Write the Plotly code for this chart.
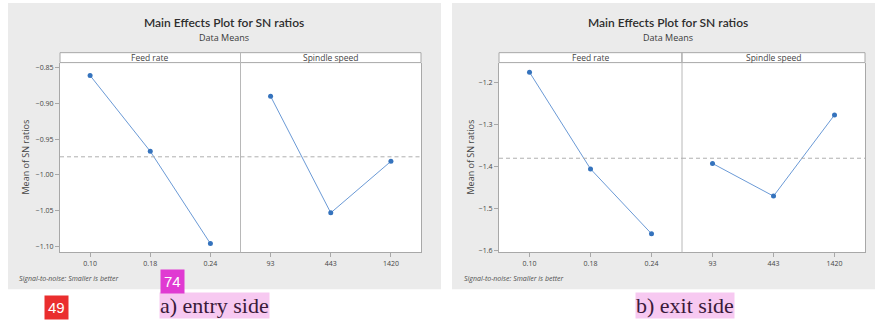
import plotly.graph_objects as go
import numpy as np

# ---- data ----
feed_levels = ["0.10", "0.18", "0.24"]
speed_levels = ["93", "443", "1420"]
entry_feed = [-0.861, -0.967, -1.096]
entry_speed = [-0.890, -1.053, -0.981]
exit_feed = [-1.175, -1.406, -1.561]
exit_speed = [-1.393, -1.471, -1.277]
entry_ticks = [-0.85, -0.90, -0.95, -1.00, -1.05, -1.10]
exit_ticks = [-1.2, -1.3, -1.4, -1.5, -1.6]
panel_titles = ["Feed rate", "Spindle speed"]

W, H = 875, 320
def px(x): return x / W
def py(y): return 1 - y / H

LINE_C = "#6b9ad6"
MARK_C = "#3573bd"
AX_C = "#a8a8a8"
TXT_C = "#454545"
FONT = "Open Sans, Liberation Sans, sans-serif"

fig = go.Figure()

panels = [
    dict(xs=(60, 240.5, 421), feed=entry_feed, speed=entry_speed, ticks=entry_ticks,
         fmt=".2f", rng=[-1.1083, -0.843], gray=(8, 441), ytitle_x=26, foot_x=17, title_x=224, label="a) entry side", label_x=214),
    dict(xs=(499, 682, 865), feed=exit_feed, speed=exit_speed, ticks=exit_ticks,
         fmt=".1f", rng=[-1.6055, -1.152], gray=(452, 875), ytitle_x=471, foot_x=462, title_x=668, label="b) exit side", label_x=685),
]

y_top_plot = py(63)
y_bot_plot = py(254)
y_strip_top = py(53)

shapes = []
annotations = []
layout_axes = {}

for pi, p in enumerate(panels):
    x0, xm, x1 = p["xs"]
    xa1 = "x" if pi == 0 else f"x{2*pi+1}"
    xa2 = f"x{2*pi+2}"
    ya1 = "y" if pi == 0 else f"y{2*pi+1}"
    ya2 = f"y{2*pi+2}"
    shapes.append(dict(type="rect", xref="paper", yref="paper", x0=px(p["gray"][0]), x1=px(p["gray"][1]),
                       y0=py(291), y1=py(3), fillcolor="#ebebeb", line=dict(width=0), layer="below"))
    shapes.append(dict(type="rect", xref="paper", yref="paper", x0=px(x0), x1=px(x1),
                       y0=y_bot_plot, y1=y_top_plot, fillcolor="white", line=dict(width=0), layer="below"))
    for (sx0, sx1), name in zip([(x0, xm), (xm, x1)], panel_titles):
        shapes.append(dict(type="rect", xref="paper", yref="paper", x0=px(sx0), x1=px(sx1),
                           y0=y_top_plot, y1=y_strip_top, fillcolor="white", line=dict(color=AX_C, width=1), layer="below"))
        annotations.append(dict(text=name, xref="paper", yref="paper", x=px((sx0 + sx1) / 2), y=(y_top_plot + y_strip_top) / 2,
                                showarrow=False, font=dict(size=8.5, color=TXT_C, family=FONT), xanchor="center", yanchor="middle"))
    shapes.append(dict(type="line", xref="paper", yref="paper", x0=px(xm), x1=px(xm), y0=y_bot_plot, y1=y_strip_top,
                       line=dict(color="#b8b8b8", width=1)))
    grand_mean = float(np.mean(p["feed"] + p["speed"]))
    for k, (xa, ya, cats, vals, d0, d1) in enumerate([
        (xa1, ya1, feed_levels, p["feed"], x0, xm),
        (xa2, ya2, speed_levels, p["speed"], xm, x1),
    ]):
        fig.add_trace(go.Scatter(x=list(range(len(cats))), y=vals, xaxis=xa, yaxis=ya, mode="lines+markers",
                                 line=dict(color=LINE_C, width=1), marker=dict(color=MARK_C, size=5),
                                 showlegend=False, hoverinfo="skip"))
        shapes.append(dict(type="line", xref=xa, yref=ya, x0=-0.5, x1=2.5, y0=grand_mean, y1=grand_mean,
                           line=dict(color="#b0b0b0", width=1, dash="4px,3px")))
        xkey = "xaxis" if xa == "x" else "xaxis" + xa[1:]
        ykey = "yaxis" if ya == "y" else "yaxis" + ya[1:]
        layout_axes[xkey] = dict(domain=[px(d0), px(d1)], anchor=ya, range=[-0.5, 2.5],
                                 tickmode="array", tickvals=list(range(len(cats))), ticktext=cats,
                                 showgrid=False, zeroline=False, showline=True, mirror=False, linecolor=AX_C,
                                 ticks="outside", ticklen=4, tickcolor=AX_C,
                                 tickfont=dict(size=7, color=TXT_C, family=FONT), fixedrange=True)
        yax = dict(domain=[y_bot_plot, y_top_plot], anchor=xa, range=p["rng"],
                   tickmode="array", tickvals=p["ticks"], tickformat=p["fmt"],
                   showgrid=False, zeroline=False, showline=True, linecolor=AX_C,
                   fixedrange=True, tickfont=dict(size=7, color=TXT_C, family=FONT))
        if k == 0:
            yax.update(ticks="outside", ticklen=4, tickcolor=AX_C, showticklabels=True, side="left")
        else:
            yax.update(ticks="", showticklabels=False, matches=ya1, side="right")
        layout_axes[ykey] = yax
    annotations.append(dict(text="Main Effects Plot for SN ratios", xref="paper", yref="paper", x=px(p["title_x"]), y=py(23),
                            showarrow=False, font=dict(size=12, color="#2e2e2e", family="Lato, Open Sans, sans-serif", weight=600),
                            xanchor="center", yanchor="middle"))
    annotations.append(dict(text="Data Means", xref="paper", yref="paper", x=px(p["title_x"]), y=py(38),
                            showarrow=False, font=dict(size=9, color="#3a3a3a", family=FONT), xanchor="center", yanchor="middle"))
    annotations.append(dict(text="Mean of SN ratios", xref="paper", yref="paper", x=px(p["ytitle_x"]), y=(y_bot_plot + y_top_plot) / 2,
                            showarrow=False, textangle=-90, font=dict(size=9, color=TXT_C, family=FONT), xanchor="center", yanchor="middle"))
    annotations.append(dict(text="<i>Signal-to-noise: Smaller is better</i>", xref="paper", yref="paper", x=px(p["foot_x"]), y=py(280),
                            showarrow=False, font=dict(size=7, color="#505050", family=FONT), xanchor="left", yanchor="middle"))
    annotations.append(dict(text=p["label"], xref="paper", yref="paper", x=px(p["label_x"]), y=py(307),
                            showarrow=False, font=dict(size=22, color="#3a1a3a", family="Liberation Serif, serif"),
                            bgcolor="#f7c9f1", borderpad=0, xanchor="center", yanchor="middle"))

annotations.append(dict(text="74", xref="paper", yref="paper", x=px(172.5), y=py(283), showarrow=False,
                        font=dict(size=15, color="white", family="Liberation Sans, sans-serif"),
                        bgcolor="#e03ad2", borderpad=3, xanchor="center", yanchor="middle"))
annotations.append(dict(text="49", xref="paper", yref="paper", x=px(56.5), y=py(309), showarrow=False,
                        font=dict(size=15, color="white", family="Liberation Sans, sans-serif"),
                        bgcolor="#ea2e2e", borderpad=3, xanchor="center", yanchor="middle"))

fig.update_layout(width=W, height=H, margin=dict(l=0, r=0, t=0, b=0),
                  paper_bgcolor="white", plot_bgcolor="rgba(0,0,0,0)",
                  shapes=shapes, annotations=annotations, **layout_axes)
fig.write_html("out.html", config={"displayModeBar": False},
               post_script="document.body.style.margin='0px';document.body.style.overflow='hidden';")
